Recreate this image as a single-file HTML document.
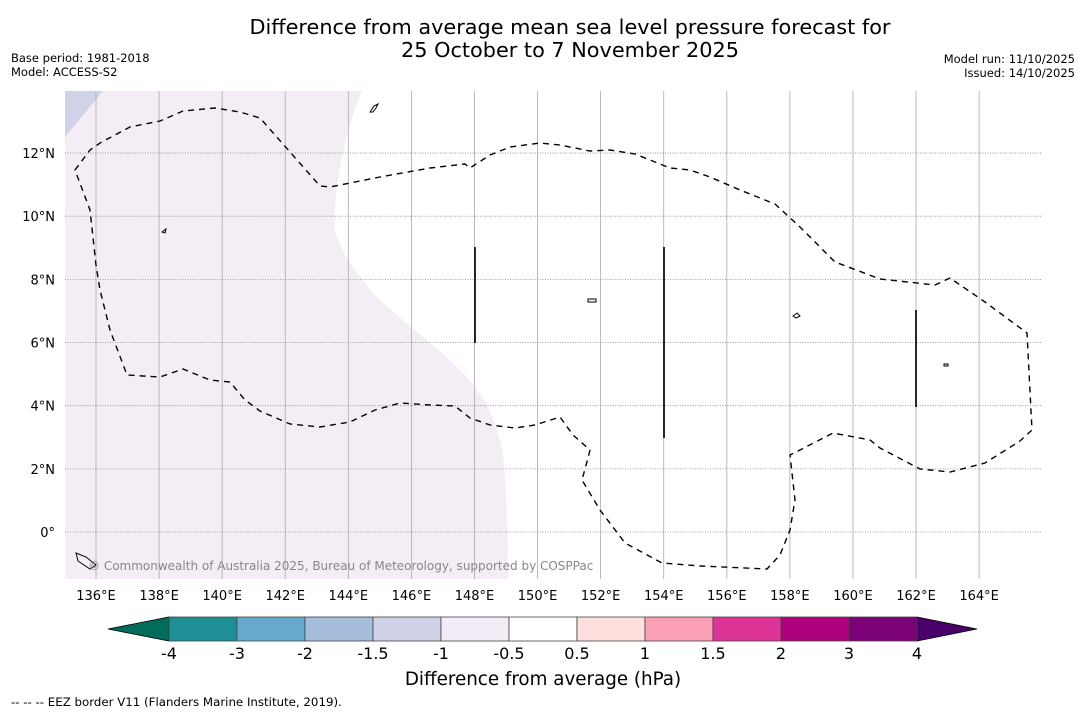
<!DOCTYPE html>
<html><head><meta charset="utf-8"><style>
body{margin:0;background:#fff;font-family:"DejaVu Sans","Liberation Sans",sans-serif;}
svg{display:block}
</style></head><body>
<svg width="1085" height="713" viewBox="0 0 1085 713">
<text x="570" y="34" font-size="20.8" text-anchor="middle">Difference from average mean sea level pressure forecast for</text>
<text x="570" y="57" font-size="20.8" text-anchor="middle">25 October to 7 November 2025</text>
<text x="11" y="62" font-size="11.5">Base period: 1981-2018</text>
<text x="11" y="76" font-size="11.5">Model: ACCESS-S2</text>
<text x="1075" y="63" font-size="11.5" text-anchor="end">Model run: 11/10/2025</text>
<text x="1075" y="77" font-size="11.5" text-anchor="end">Issued: 14/10/2025</text>
<g id="map">
<clipPath id="mc"><rect x="65" y="91" width="977" height="488"/></clipPath>
<g clip-path="url(#mc)">
<path d="M65 91 L362 91 C345 130 333 190 335 230 C340 250 350 265 375 295 C400 320 430 340 460 370 C485 395 497 420 503 455 C507 490 508 540 508 579 L65 579 Z" fill="#f4edf6"/>
<path d="M65 91 L103 91 L65 137 Z" fill="#d0d3e8"/>
<g id="grid"></g>
<path d="M75 170 L90 150 L100 143 L130 127 L160 121 L183 111 L215 108 L240 112 L260 118 L290 152 L320 186 L330 187 L380 177 L430 168 L465 164 L470 168 L490 155 L510 147 L540 143 L560 145 L590 151 L610 150 L635 154 L655 162 L670 168 L690 170 L710 177 L740 190 L775 204 L800 227 L835 262 L880 279 L935 285 L950 278 L985 302 L1027 333 L1032 430 L1020 441 L985 463 L950 472 L920 469 L880 448 L870 440 L833 433 L800 450 L790 455 L795 500 L790 530 L780 555 L767 569 L700 566 L662 563 L625 543 L600 510 L582 480 L588 458 L590 450 L573 435 L560 417 L535 425 L515 428 L490 425 L470 418 L455 406 L430 405 L400 403 L375 410 L350 422 L320 427 L290 424 L260 411 L245 400 L230 382 L210 380 L183 369 L160 377 L127 375 L110 330 L100 290 L96 265 L90 210 Z" fill="none" stroke="#000" stroke-width="1.4" stroke-dasharray="6,5"/>
<line x1="475" y1="247" x2="475" y2="343" stroke="#111" stroke-width="1.8"/>
<line x1="664" y1="247" x2="664" y2="438" stroke="#111" stroke-width="1.8"/>
<line x1="916" y1="310" x2="916" y2="407" stroke="#111" stroke-width="1.8"/>
<path d="M370 112 l4 -6 l4 -2 l-2 4 l-3 4 Z M162 232 l4 -3 l-1 4 Z M588 299 l8 0 l0 3 l-8 0 Z M793 316 l4 -3 l3 3 l-4 2 Z M944 364 l4 0 l0 2 l-4 0 Z M76 553 l10 4 l10 8 l-6 4 l-12 -8 Z" fill="none" stroke="#000" stroke-width="1"/>
</g>
<text x="88" y="570" font-size="12" fill="#888">© Commonwealth of Australia 2025, Bureau of Meteorology, supported by COSPPac</text>
</g>
<g id="axes"></g>
<g id="cbar"></g>
<text x="543" y="685" font-size="18.3" text-anchor="middle">Difference from average (hPa)</text>
<text x="11" y="706" font-size="11.8">--  --  -- EEZ border V11 (Flanders Marine Institute, 2019).</text>
</svg>
<script>
const lonTicks=[136,138,140,142,144,146,148,150,152,154,156,158,160,162,164];
const latTicks=[0,2,4,6,8,10,12];
const levels=[-4,-3,-2,-1.5,-1,-0.5,0.5,1,1.5,2,3,4];
const levelLabels=["-4","-3","-2","-1.5","-1","-0.5","0.5","1","1.5","2","3","4"];
const binColors=["#1e8f95","#67a9cf","#a6bddb","#d0d1e6","#f3ecf6","#ffffff","#fde0dd","#fa9fb5","#dd3497","#ae017e","#7a0177"];
const underColor="#016c59", overColor="#49006a";
const NS="http://www.w3.org/2000/svg";
const xLon=l=>96+(l-136)*31.54;
const yLat=l=>532-l*31.58;
function mk(t,a,p){const e=document.createElementNS(NS,t);for(const k in a)e.setAttribute(k,a[k]);p.appendChild(e);return e;}
const grid=document.getElementById('grid'),axes=document.getElementById('axes');
lonTicks.forEach(l=>{
 const ln=mk('line',{x1:xLon(l),x2:xLon(l),y1:91,y2:579,stroke:'#aaa','stroke-width':0.8},grid);
 
 
 const t=mk('text',{x:xLon(l),y:600,'font-size':13,'text-anchor':'middle'},axes);
 t.textContent=l+'°E';
 
 
});
latTicks.forEach(l=>{
 const ln=mk('line',{x1:65,x2:1042,y1:yLat(l),y2:yLat(l),stroke:'#888','stroke-width':0.8,'stroke-dasharray':'1,1.5'},grid);
 
 
 const t=mk('text',{x:55,y:yLat(l)+5,'font-size':13,'text-anchor':'end'},axes);
 t.textContent=l===0?'0°':l+'°N';
 
 
});
const cb=document.getElementById('cbar');
const cx0=169,cw=68,cy=617,ch=24;
const cbx=i=>cx0+i*cw;
const under=mk('polygon',{points:`108,${cy+ch/2} ${cbx(0)},${cy} ${cbx(0)},${cy+ch}`,fill:underColor,stroke:'#000','stroke-width':0.8},cb);


const n=binColors.length;
const over=mk('polygon',{points:`${cbx(n)},${cy} 977,${cy+ch/2} ${cbx(n)},${cy+ch}`,fill:overColor,stroke:'#000','stroke-width':0.8},cb);


binColors.forEach((c,i)=>{
 const r=mk('rect',{x:cbx(i),y:cy,width:cw,height:ch,fill:c,stroke:'#444','stroke-width':0.8},cb);
 
 
});
levels.forEach((v,i)=>{
 const t=mk('text',{x:cbx(i),y:659,'font-size':16,'text-anchor':'middle'},cb);
 t.textContent=levelLabels[i];
 
 
});
</script>
</body></html>
